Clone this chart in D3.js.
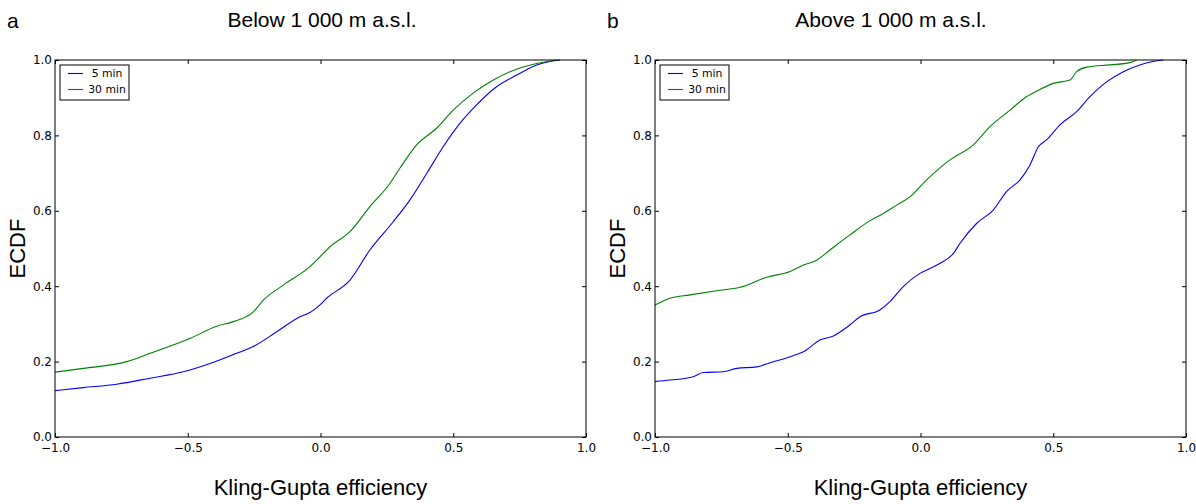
<!DOCTYPE html>
<html>
<head>
<meta charset="utf-8">
<script src="https://cdn.jsdelivr.net/npm/d3@7"></script>
<style>
	body { margin: 0; background: #fff; }
	svg { display: block; }
	.tick text { font-family: "DejaVu Sans", sans-serif; font-size: 12px; fill: #000; }
	.lbl { font-family: "Liberation Sans", Arial, sans-serif; fill: #000; }
</style>
</head>
<body>
<svg id="chart"></svg>
<script>
// ECDF of Kling-Gupta efficiency: [kge, ecdf]
const below5 = [
	[-1.0, 0.123], [-0.893, 0.131], [-0.768, 0.140], [-0.642, 0.156], [-0.517, 0.173],
	[-0.416, 0.195], [-0.316, 0.222], [-0.253, 0.240], [-0.165, 0.279], [-0.077, 0.319],
	[-0.04, 0.330], [0.0, 0.352], [0.023, 0.368], [0.111, 0.416], [0.186, 0.496],
	[0.274, 0.571], [0.337, 0.629], [0.4, 0.699], [0.462, 0.770], [0.525, 0.832],
	[0.588, 0.881], [0.663, 0.929], [0.739, 0.960], [0.814, 0.987], [0.864, 0.996], [0.902, 1.0]
];
const below30 = [
	[-1.0, 0.172], [-0.893, 0.182], [-0.73, 0.2], [-0.642, 0.222], [-0.49, 0.262],
	[-0.391, 0.294], [-0.328, 0.306], [-0.253, 0.332], [-0.215, 0.363], [-0.14, 0.403],
	[-0.04, 0.452], [-0.002, 0.478], [0.036, 0.505], [0.111, 0.545], [0.186, 0.611],
	[0.262, 0.673], [0.299, 0.713], [0.362, 0.775], [0.437, 0.819], [0.5, 0.867],
	[0.575, 0.912], [0.651, 0.947], [0.714, 0.969], [0.776, 0.984], [0.839, 0.994], [0.889, 1.0]
];
const above5 = [
	[-1.0, 0.147], [-0.944, 0.151], [-0.856, 0.160], [-0.818, 0.171], [-0.743, 0.173],
	[-0.692, 0.182], [-0.617, 0.186], [-0.567, 0.197], [-0.491, 0.213], [-0.441, 0.226],
	[-0.379, 0.257], [-0.328, 0.268], [-0.266, 0.297], [-0.228, 0.319], [-0.153, 0.337],
	[-0.115, 0.359], [-0.065, 0.399], [-0.002, 0.434], [0.036, 0.447], [0.074, 0.461],
	[0.124, 0.487], [0.149, 0.514], [0.212, 0.567], [0.274, 0.602], [0.324, 0.651],
	[0.375, 0.682], [0.412, 0.721], [0.444, 0.770], [0.475, 0.788], [0.525, 0.828],
	[0.588, 0.863], [0.638, 0.903], [0.701, 0.942], [0.764, 0.969], [0.826, 0.987],
	[0.876, 0.996], [0.914, 1.0]
];
const above30 = [
	[-1.0, 0.350], [-0.944, 0.368], [-0.868, 0.377], [-0.768, 0.388], [-0.68, 0.397],
	[-0.579, 0.424], [-0.491, 0.439], [-0.441, 0.456], [-0.391, 0.469], [-0.341, 0.496],
	[-0.266, 0.536], [-0.190, 0.574], [-0.14, 0.593], [-0.09, 0.615], [-0.04, 0.637],
	[0.023, 0.682], [0.111, 0.735], [0.199, 0.775], [0.262, 0.823], [0.337, 0.867],
	[0.4, 0.903], [0.45, 0.922], [0.5, 0.938], [0.563, 0.947], [0.588, 0.969],
	[0.626, 0.981], [0.714, 0.987], [0.789, 0.993], [0.814, 1.0]
];

const seriesNames = ['5 min', '30 min'];
const seriesColors = ['#0000ff', '#008000'];
const panelLetters = ['a', 'b'];
const panelTitles = ['Below 1 000 m a.s.l.', 'Above 1 000 m a.s.l.'];
const xTicks = [-1.0, -0.5, 0.0, 0.5, 1.0];
const yTicks = [0.0, 0.2, 0.4, 0.6, 0.8, 1.0];
const xLabel = 'Kling-Gupta efficiency';
const yLabel = 'ECDF';

const panelData = [[below5, below30], [above5, above30]];

const W = 1196, H = 504;
const svg = d3.select('#chart').attr('width', W).attr('height', H);

const plotW = 531, plotH = 377, plotTop = 60;
const lefts = [55, 655];
const titleX = [322, 891];
const fmt = d3.format('.1f');

panelData.forEach((series, i) => {
	const left = lefts[i];
	const g = svg.append('g').attr('transform', `translate(${left},${plotTop})`);

	const x = d3.scaleLinear().domain([-1, 1]).range([0, plotW]);
	const y = d3.scaleLinear().domain([0, 1]).range([plotH, 0]);

	// ticks pointing inward on all four sides
	g.append('g').attr('transform', `translate(0,${plotH})`)
		.call(d3.axisBottom(x).tickValues(xTicks).tickFormat(fmt).tickSizeInner(-4).tickSizeOuter(0).tickPadding(6));
	g.append('g')
		.call(d3.axisTop(x).tickValues(xTicks).tickFormat('').tickSizeInner(-4).tickSizeOuter(0));
	g.append('g')
		.call(d3.axisLeft(y).tickValues(yTicks).tickFormat(fmt).tickSizeInner(-4).tickSizeOuter(0).tickPadding(3));
	g.append('g').attr('transform', `translate(${plotW},0)`)
		.call(d3.axisRight(y).tickValues(yTicks).tickFormat('').tickSizeInner(-4).tickSizeOuter(0));
	g.selectAll('.domain').remove();
	g.selectAll('.tick line').attr('stroke', '#000');

	const line = d3.line()
		.curve(d3.curveMonotoneX)
		.x(d => x(d[0]))
		.y(d => y(d[1]));

	series.forEach((s, j) => {
		g.append('path').datum(s)
			.attr('d', line)
			.attr('fill', 'none')
			.attr('stroke', seriesColors[j])
			.attr('stroke-width', 1.1);
	});

	g.append('rect')
		.attr('x', 0).attr('y', 0).attr('width', plotW).attr('height', plotH)
		.attr('fill', 'none').attr('stroke', '#000').attr('stroke-width', 1);

	// legend
	const leg = g.append('g').attr('transform', 'translate(5,5)');
	leg.append('rect')
		.attr('width', 69).attr('height', 35)
		.attr('fill', '#fff').attr('stroke', '#000').attr('stroke-width', 1);
	seriesNames.forEach((name, j) => {
		const ly = 8.5 + j * 16;
		leg.append('line')
			.attr('x1', 8).attr('x2', 23).attr('y1', ly).attr('y2', ly)
			.attr('stroke', seriesColors[j]).attr('stroke-width', 1.1);
		leg.append('text')
			.attr('x', 47).attr('y', ly).attr('dy', '0.36em')
			.attr('text-anchor', 'middle')
			.style('font-family', '"DejaVu Sans", sans-serif')
			.style('font-size', '10.8px')
			.text(name);
	});

	// labels
	svg.append('text').attr('class', 'lbl')
		.attr('x', left - 48).attr('y', 28)
		.style('font-size', '21px')
		.text(panelLetters[i]);
	svg.append('text').attr('class', 'lbl')
		.attr('x', titleX[i]).attr('y', 27)
		.attr('text-anchor', 'middle')
		.style('font-size', '21px')
		.text(panelTitles[i]);
	svg.append('text').attr('class', 'lbl')
		.attr('x', left + plotW / 2).attr('y', 495)
		.attr('text-anchor', 'middle')
		.style('font-size', '22px')
		.text(xLabel);
	svg.append('text').attr('class', 'lbl')
		.attr('transform', `translate(${left - 30},${plotTop + plotH / 2}) rotate(-90)`)
		.attr('text-anchor', 'middle')
		.style('font-size', '22px')
		.text(yLabel);
});
</script>
</body>
</html>
